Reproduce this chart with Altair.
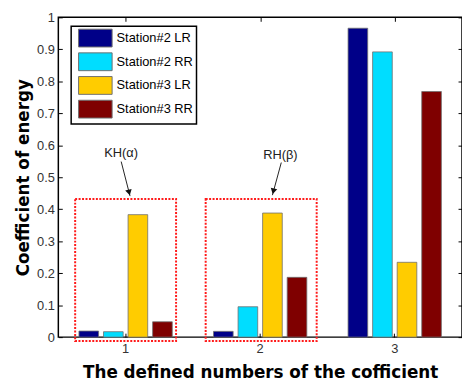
import altair as alt
import pandas as pd

# ---- data ----
groups = ["1", "2", "3"]
series = ["Station#2 LR", "Station#2 RR", "Station#3 LR", "Station#3 RR"]
station2_lr = [0.019, 0.018, 0.966]
station2_rr = [0.017, 0.095, 0.892]
station3_lr = [0.383, 0.388, 0.234]
station3_rr = [0.048, 0.187, 0.768]
colors = ["#000088", "#00DDFF", "#FFCC00", "#7F0000"]
y_ticks = [0, 0.1, 0.2, 0.3, 0.4, 0.5, 0.6, 0.7, 0.8, 0.9, 1]
x_ticks = [1, 2, 3]

# annotation boxes (data units)
box_x_lo = [0.625, 1.595]
box_x_hi = [1.375, 2.42]
box_y_lo = [-0.012, -0.012]
box_y_hi = [0.432, 0.432]

# annotation labels and arrows (data units)
ann_text = ["KH(α)", "RH(β)"]
ann_x = [0.967, 2.15]
ann_y = [0.575, 0.568]
arr_x0 = [0.967, 2.157]
arr_y0 = [0.549, 0.546]
arr_x1 = [1.033, 2.091]
arr_y1 = [0.441, 0.444]
head_x = [1.026, 2.098]
head_y = [0.452, 0.456]
head_angle = [346, 13]

rows = []
for s, vals in zip(series, [station2_lr, station2_rr, station3_lr, station3_rr]):
    for g, v in zip(groups, vals):
        rows.append({"group": g, "series": s, "value": v})
df = pd.DataFrame(rows)

FONT = "Liberation Sans"
TFONT = "DejaVu Sans"
xq = alt.Scale(domain=[0.5, 3.5], nice=False, zero=False)
yq = alt.Scale(domain=[0, 1], nice=False)

bars = alt.Chart(df).mark_bar(stroke="#707070", strokeWidth=0.8).encode(
    x=alt.X("group:N", sort=groups,
            scale=alt.Scale(paddingInner=0.27, paddingOuter=0.135),
            axis=alt.Axis(title="The defined numbers of the cofficient", labelAngle=0,
                          orient="bottom", offset=-4, tickSize=4, domain=False,
                          labelPadding=6, titlePadding=9, labelFontSize=13,
                          labelColor="#333333", titleFontSize=17, titleFont=TFONT,
                          labelFont=FONT, titleFontWeight="bold", titleColor="black",
                          tickColor="black")),
    xOffset=alt.XOffset("series:N", sort=series,
                        scale=alt.Scale(paddingInner=0.2, paddingOuter=0.1)),
    y=alt.Y("value:Q", scale=yq,
            axis=alt.Axis(values=y_ticks, format="~g", title="Coefficient of energy",
                          offset=-4, tickSize=4, domain=False, grid=False,
                          labelPadding=4, titlePadding=4, labelFontSize=13,
                          labelColor="#333333", labelFont=FONT, titleFont=TFONT,
                          titleFontSize=17, titleFontWeight="bold", titleColor="black",
                          tickColor="black")),
    color=alt.Color("series:N", sort=series,
                    scale=alt.Scale(domain=series, range=colors),
                    legend=alt.Legend(title=None, orient="none", legendX=13, legendY=9,
                                      padding=3, strokeColor="black", fillColor="white",
                                      symbolType="M-2,-1.06H2V1.06H-2Z", symbolSize=289,
                                      symbolOffset=12.5,
                                      symbolStrokeColor="#707070", symbolStrokeWidth=1,
                                      rowPadding=0, labelOffset=12.5, labelFontSize=13,
                                      labelFont=FONT, labelColor="black")),
)

box_df = pd.DataFrame({"x1": box_x_lo, "x2": box_x_hi, "y1": box_y_lo, "y2": box_y_hi})
boxes = alt.Chart(box_df).mark_rect(fill="transparent", stroke="#FF1A1A", strokeWidth=2,
                                     strokeDash=[2, 1.5]).encode(
    x=alt.X("x1:Q", scale=xq,
            axis=alt.Axis(orient="top", values=x_ticks, labels=False, title=None,
                          domain=False, grid=False, offset=-4, tickSize=4, tickColor="black")),
    x2="x2:Q",
    y=alt.Y("y1:Q", scale=yq,
            axis=alt.Axis(orient="right", values=y_ticks, labels=False, title=None,
                          domain=False, grid=False, offset=-4, tickSize=4, tickColor="black")),
    y2="y2:Q",
)

ann_df = pd.DataFrame({"t": ann_text, "x": ann_x, "y": ann_y,
                       "x0": arr_x0, "y0": arr_y0, "x1": arr_x1, "y1": arr_y1,
                       "hx": head_x, "hy": head_y, "ang": head_angle})

texts = alt.Chart(ann_df).mark_text(font=FONT, fontSize=13, color="#222222").encode(
    x=alt.X("x:Q", scale=xq, axis=None),
    y=alt.Y("y:Q", scale=yq, axis=None),
    text="t:N",
)

arrows = alt.Chart(ann_df).mark_rule(color="#222222", strokeWidth=1).encode(
    x=alt.X("x0:Q", scale=xq, axis=None),
    y=alt.Y("y0:Q", scale=yq, axis=None),
    x2="x1:Q",
    y2="y1:Q",
)

heads = alt.Chart(ann_df).mark_point(shape="triangle-down", filled=True, size=45,
                                     color="#111111", opacity=1).encode(
    x=alt.X("hx:Q", scale=xq, axis=None),
    y=alt.Y("hy:Q", scale=yq, axis=None),
    angle=alt.Angle("ang:Q", scale=None),
)

chart = alt.layer(bars, boxes, texts, arrows, heads).resolve_scale(
    x="independent", y="independent"
).properties(
    width=409, height=324,
    autosize=alt.AutoSizeParams(type="none"),
    padding={"left": 51, "top": 7, "right": 0, "bottom": 44},
).configure_view(stroke="black", strokeWidth=1.5).configure_legend(strokeWidth=1.5)

chart.save("out.html", embed_options={"renderer": "svg", "actions": False})
